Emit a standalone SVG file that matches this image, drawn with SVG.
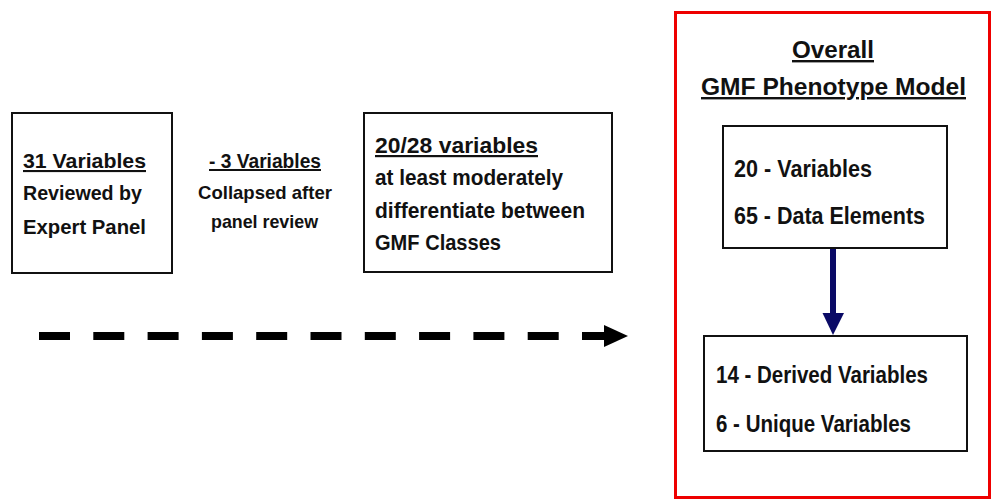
<svg xmlns="http://www.w3.org/2000/svg" width="994" height="500" viewBox="0 0 994 500">
<style>
.box{fill:#fff;stroke:#111;stroke-width:2}
.t{font-family:"Liberation Sans Narrow","Liberation Sans",Arial,sans-serif;font-weight:bold;fill:#111}
.u{text-decoration:underline}
</style>
<rect width="994" height="500" fill="#fff"/>
<g id="connectors">
<line x1="39" y1="336" x2="606" y2="336" stroke="#000" stroke-width="8" stroke-dasharray="31 23.3"/>
<polygon points="604,325 628,336 604,347" fill="#000"/>
<rect x="830" y="248" width="6" height="66" fill="#0a0a66"/>
<polygon points="822.5,313 844,313 833,335" fill="#0a0a66"/>
</g>
<g id="node-31-variables">
<rect class="box" x="12" y="113" width="160" height="160"/>
<text class="t u" x="23" y="168" font-size="21" textLength="123" lengthAdjust="spacingAndGlyphs">31 Variables</text>
<text class="t" x="23" y="200" font-size="21" textLength="119" lengthAdjust="spacingAndGlyphs">Reviewed by</text>
<text class="t" x="23" y="234" font-size="21" textLength="123" lengthAdjust="spacingAndGlyphs">Expert Panel</text>
</g>
<g id="node-minus-3">
<text class="t u" x="209" y="168" font-size="20" textLength="112" lengthAdjust="spacingAndGlyphs">- 3 Variables</text>
<text class="t" x="198" y="199" font-size="19" textLength="134" lengthAdjust="spacingAndGlyphs">Collapsed after</text>
<text class="t" x="211" y="227.5" font-size="19" textLength="107" lengthAdjust="spacingAndGlyphs">panel review</text>
</g>
<g id="node-20-28">
<rect class="box" x="364" y="113" width="248" height="159"/>
<text class="t u" x="375" y="153" font-size="22" textLength="163" lengthAdjust="spacingAndGlyphs">20/28 variables</text>
<text class="t" x="375" y="185" font-size="22" textLength="188" lengthAdjust="spacingAndGlyphs">at least moderately</text>
<text class="t" x="375" y="218" font-size="22" textLength="210" lengthAdjust="spacingAndGlyphs">differentiate between</text>
<text class="t" x="375" y="250" font-size="22" textLength="126" lengthAdjust="spacingAndGlyphs">GMF Classes</text>
</g>
<g id="node-overall">
<rect x="675.5" y="12.5" width="314" height="485" fill="none" stroke="#ee0000" stroke-width="3"/>
<text class="t u" x="792" y="58" font-size="24" textLength="82" lengthAdjust="spacingAndGlyphs">Overall</text>
<text class="t u" x="701" y="95" font-size="24" textLength="265" lengthAdjust="spacingAndGlyphs">GMF Phenotype Model</text>
</g>
<g id="node-20-variables">
<rect class="box" x="723" y="126" width="224" height="122"/>
<text class="t" x="734" y="177" font-size="24" textLength="138" lengthAdjust="spacingAndGlyphs">20 - Variables</text>
<text class="t" x="734" y="224" font-size="24" textLength="191" lengthAdjust="spacingAndGlyphs">65 - Data Elements</text>
</g>
<g id="node-derived">
<rect class="box" x="704" y="336" width="263" height="115"/>
<text class="t" x="716" y="383" font-size="24" textLength="212" lengthAdjust="spacingAndGlyphs">14 - Derived Variables</text>
<text class="t" x="716" y="432" font-size="24" textLength="195" lengthAdjust="spacingAndGlyphs">6 - Unique Variables</text>
</g>
</svg>
